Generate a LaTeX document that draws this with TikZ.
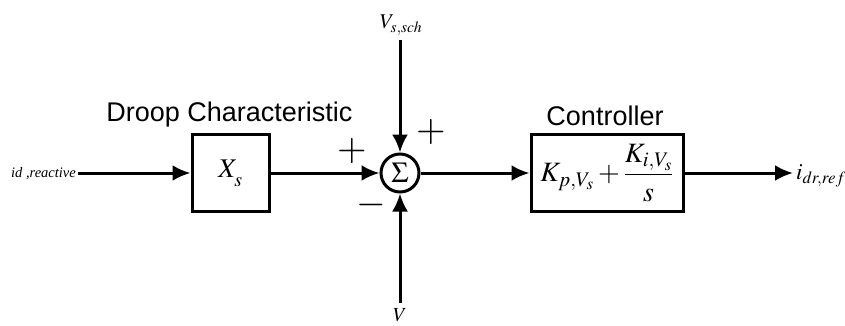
\documentclass[tikz,border=0pt]{standalone}
\usepackage{mathptmx}
\usepackage{fontspec}
\setmainfont{Liberation Serif}
\newfontfamily\labelfont{Liberation Sans}
\usetikzlibrary{arrows.meta}
\tikzset{
  blk/.style={draw,line width=3pt,minimum height=77pt,inner sep=0pt},
  conn/.style={line width=3pt,-{Latex[length=18pt,width=16pt]}},
  lbl/.style={font=\labelfont\fontsize{27}{30}\selectfont,inner sep=0pt},
  sgn/.style={font=\fontsize{38}{40}\selectfont,inner sep=0pt},
}
\begin{document}
\begin{tikzpicture}[x=1pt,y=-1pt]
\useasboundingbox (0,0) rectangle (845,325);
\clip (0,0) rectangle (845,325);
\fill[white] (0,0) rectangle (845,325);
\node[blk,minimum width=77pt] (xs) at (230.5,173) {\fontsize{27}{30}\selectfont$X_{\raisebox{-5pt}{$\scriptstyle s$}}$};
\node[draw,circle,line width=3pt,minimum size=38pt,inner sep=0pt] (sum) at (400,173) {\fontsize{29}{30}\selectfont$\Sigma$};
\node[blk,minimum width=152pt] (ctl) at (607,173) {\fontsize{28}{30}\selectfont$K_{p,V_s}+{\displaystyle\frac{K_{i,V_s}}{s}}$};
\coordinate (in) at (78,173);
\coordinate (out) at (793,173);
\coordinate (top) at (400,40);
\coordinate (bot) at (400,303);
\draw[conn] (in) -- (xs);
\draw[conn] (xs) -- (sum);
\draw[conn] (top) -- (sum);
\draw[conn] (bot) -- (sum);
\draw[conn] (sum) -- (ctl);
\draw[conn] (ctl) -- (out);
\node[lbl] (dl) at (229.5,115) {Droop Characteristic};
\node[lbl] (cl) at (605,116) {Controller};
\node[font=\itshape\fontsize{14.5}{16}\selectfont,inner sep=0pt,anchor=east] (inl) at (76,174) {id ,reactive};
\node[inner sep=0pt] (vt) at (401,25) {\fontsize{21}{24}\selectfont$V_{s,sch}$};
\node[inner sep=0pt,anchor=west] (outl) at (796,176) {\fontsize{23}{26}\selectfont$i_{dr,ref}$};
\node[inner sep=0pt,anchor=north] (vb) at (400,308) {\fontsize{20}{24}\selectfont$V$};
\node[sgn] (p1) at (352,151) {$+$};
\node[sgn] (p2) at (431,132) {$+$};
\node[sgn] (m1) at (371,205) {$-$};
\end{tikzpicture}
\end{document}
